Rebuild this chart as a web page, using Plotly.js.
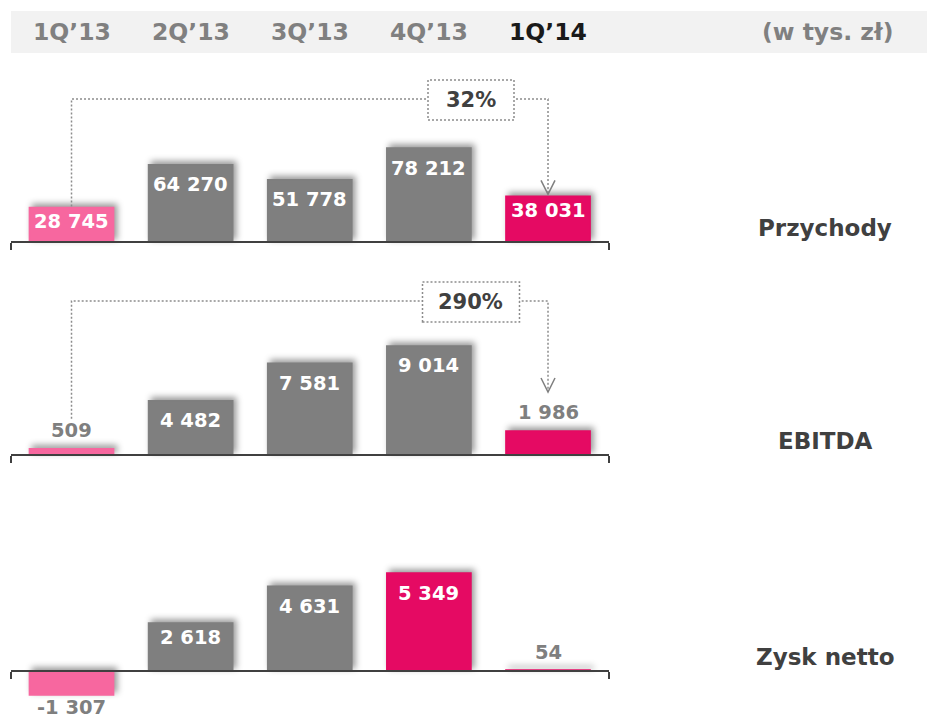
<!DOCTYPE html>
<html><head><meta charset="utf-8">
<script src="https://cdn.plot.ly/plotly-3.0.1.min.js"></script>
<style>
html,body{margin:0;padding:0;background:#fff;}
#chart{width:927px;height:720px;}
.bars .point path{filter:drop-shadow(3px -3px 3px rgba(0,0,0,0.40));}
</style></head><body><div id="chart"></div>
<script>
// ---------- data ----------
const quarters = ["1Q\u201913", "2Q\u201913", "3Q\u201913", "4Q\u201913", "1Q\u201914"];
const unitLabel = "(w tys. z\u0142)";
const metricNames = ["Przychody", "EBITDA", "Zysk netto"];
const przychody = [28745, 64270, 51778, 78212, 38031];
const ebitda = [509, 4482, 7581, 9014, 1986];
const zyskNetto = [-1307, 2618, 4631, 5349, 54];
const changeLabels = ["32%", "290%"];   // 1Q'14 vs 1Q'13 for Przychody, EBITDA

// ---------- styles ----------
const PINK = "#F7679F", MAGENTA = "#E50A63", GREY = "#7F7F7F";
const DARK = "#404040";
const FONT = "DejaVu Sans, Verdana, sans-serif";
const W = 927, H = 720;
const px2x = p => p / W;
const px2y = p => 1 - p / H;

const panels = [
  {values: przychody, base: 242, ppu: 0.0012, top: 60, bottom: 262,
   colors: [PINK, GREY, GREY, GREY, MAGENTA], lineLevel: 99, boxW: 86},
  {values: ebitda, base: 455, ppu: 0.0121, top: 270, bottom: 475,
   colors: [PINK, GREY, GREY, GREY, MAGENTA], lineLevel: 301, boxW: 97},
  {values: zyskNetto, base: 671, ppu: 0.0183, top: 530, bottom: 718,
   colors: [PINK, GREY, GREY, MAGENTA, MAGENTA]}
];

const xIdx = quarters.map((_, i) => i);
const X_LO = -0.508, X_HI = 4.512;
const xDomain = [px2x(11), px2x(609)];

function fmt(v) {
  const s = String(Math.abs(v)).replace(/\B(?=(\d{3})+(?!\d))/g, " ");
  return (v < 0 ? "-" : "") + s;
}

const traces = [];
const layout = {
  width: W, height: H, margin: {l: 0, r: 0, t: 0, b: 0},
  paper_bgcolor: "#fff", plot_bgcolor: "rgba(0,0,0,0)",
  showlegend: false, annotations: [], shapes: [],
  font: {family: FONT}
};

// header band
layout.shapes.push({type: "rect", xref: "paper", yref: "paper", layer: "below",
  x0: px2x(11), x1: 1, y0: px2y(53), y1: px2y(11),
  fillcolor: "#F2F2F2", line: {width: 0}});
quarters.forEach((q, i) => {
  layout.annotations.push({xref: "x", yref: "paper", x: i, y: px2y(32),
    text: q, showarrow: false, xanchor: "center", yanchor: "middle",
    font: {family: FONT, size: 23.5, weight: 700, color: i === quarters.length - 1 ? "#1A1A1A" : "#808080"}});
});
layout.annotations.push({xref: "paper", yref: "paper", x: px2x(827), y: px2y(32),
  text: unitLabel, showarrow: false, xanchor: "center", yanchor: "middle",
  font: {family: FONT, size: 23.5, weight: 700, color: "#808080"}});

panels.forEach((p, k) => {
  const n = k === 0 ? "" : String(k + 1);
  const xa = "x" + n, ya = "y" + n;
  const yLo = -(p.bottom - p.base) / p.ppu, yHi = (p.base - p.top) / p.ppu;
  traces.push({type: "bar", x: xIdx, y: p.values, xaxis: xa, yaxis: ya,
    width: 0.706, marker: {color: p.colors, line: {width: 1.6, color: p.colors}}, hoverinfo: "skip"});
  layout["xaxis" + n] = {domain: xDomain, range: [X_LO, X_HI], anchor: "free",
    position: px2y(p.base), showline: true, linecolor: DARK, linewidth: 2,
    ticks: "outside", tickvals: [X_LO + 0.003, X_HI - 0.003], ticklen: 7, tickwidth: 2,
    tickcolor: DARK, showticklabels: false, showgrid: false, zeroline: false, fixedrange: true};
  layout["yaxis" + n] = {domain: [px2y(p.bottom), px2y(p.top)], range: [yLo, yHi],
    visible: false, showgrid: false, zeroline: false, fixedrange: true, anchor: xa};

  // value labels
  const labelPx = [];
  p.values.forEach((v, i) => {
    const h = Math.abs(v) * p.ppu;
    const inside = h > 30;
    let shift;
    if (inside) shift = h < 50 ? -14 : -20;
    else shift = v >= 0 ? 18 : -13;
    const topPx = p.base - v * p.ppu;
    labelPx.push({inside, topPx, center: topPx - shift});
    layout.annotations.push({xref: xa, yref: ya, x: i, y: v, yshift: shift,
      text: fmt(v), showarrow: false, xanchor: "center", yanchor: "middle",
      font: {family: FONT, size: 19.5, weight: 700, color: inside ? "#FFFFFF" : GREY}});
  });

  // metric title
  layout.annotations.push({xref: "paper", yref: "paper", x: px2x(825), y: px2y(p.base - 14.5),
    text: metricNames[k], showarrow: false, xanchor: "center", yanchor: "middle",
    font: {family: FONT, size: 23, weight: 700, color: DARK}});

  // change connector (first vs last quarter)
  if (k < changeLabels.length) {
    const first = labelPx[0], last = labelPx[labelPx.length - 1];
    const leftEnd = first.inside ? first.topPx - 1 : first.center - 12;
    const tip = last.inside ? last.topPx - 2 : last.center - 21;
    const lastI = quarters.length - 1;
    layout.shapes.push({type: "path", xref: xa, yref: "paper",
      path: `M 0,${px2y(leftEnd)} L 0,${px2y(p.lineLevel)} L ${lastI},${px2y(p.lineLevel)} L ${lastI},${px2y(tip)}`,
      line: {color: "#8C8C8C", width: 1.5, dash: "2px,2px"}});
    layout.shapes.push({type: "path", xref: xa, yref: "paper",
      xsizemode: "pixel", ysizemode: "pixel", xanchor: lastI, yanchor: px2y(tip),
      path: "M -7,14 L 0,0 L 7,14", line: {color: "#7F7F7F", width: 1.5}});
    const cx = 471, cy = p.lineLevel + 1;
    layout.shapes.push({type: "rect", xref: "paper", yref: "paper",
      x0: px2x(cx - p.boxW / 2), x1: px2x(cx + p.boxW / 2),
      y0: px2y(cy + 20), y1: px2y(cy - 20),
      fillcolor: "#FFFFFF", line: {color: "#8C8C8C", width: 1.5, dash: "2px,2px"}});
    layout.annotations.push({xref: "paper", yref: "paper", x: px2x(cx), y: px2y(cy),
      text: changeLabels[k], showarrow: false, xanchor: "center", yanchor: "middle",
      font: {family: FONT, size: 21, weight: 700, color: DARK}});
  }
});

Plotly.newPlot("chart", traces, layout, {staticPlot: true, displayModeBar: false});
</script></body></html>
